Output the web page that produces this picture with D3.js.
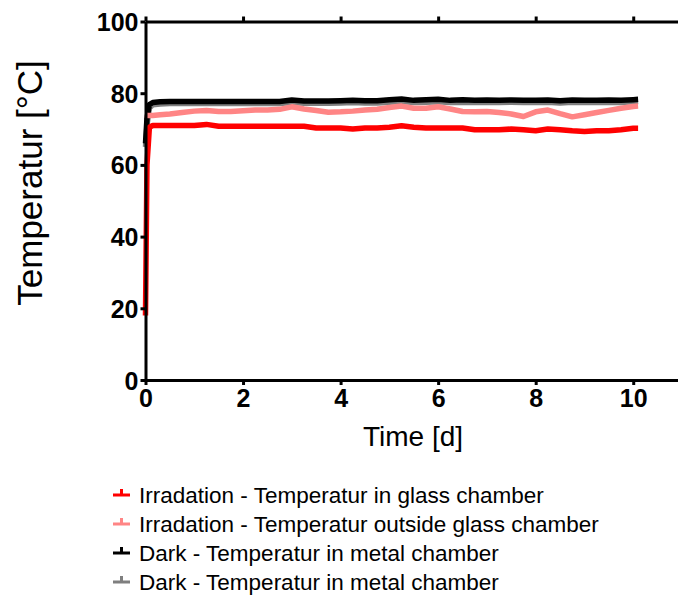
<!DOCTYPE html>
<html>
<head>
<meta charset="utf-8">
<script src="https://cdn.jsdelivr.net/npm/d3@7"></script>
<style>
  html, body { margin: 0; padding: 0; background: #fff; }
  svg { display: block; }
  text { font-family: "Liberation Sans", Arial, sans-serif; }
</style>
</head>
<body>
<svg id="chart" width="678" height="598"></svg>
<script>
// Sampling times in days
const days = [0, 0.03, 0.08, 0.15, 0.3, 0.5, 0.75, 1, 1.25, 1.5, 1.75, 2, 2.25, 2.5, 2.75,
  3, 3.25, 3.5, 3.75, 4, 4.25, 4.5, 4.75, 5, 5.25, 5.5, 5.75, 6, 6.25, 6.5, 6.75,
  7, 7.25, 7.5, 7.75, 8, 8.25, 8.5, 8.75, 9, 9.25, 9.5, 9.75, 10, 10.1];

// Temperatures in °C
const glassIrr = [18, 60, 70.5, 71, 71, 71, 71, 71, 71.3, 70.8, 70.8, 70.8, 70.8, 70.8, 70.8,
  70.8, 70.8, 70.3, 70.3, 70.3, 70.0, 70.3, 70.3, 70.5, 70.9, 70.5, 70.3, 70.3, 70.3, 70.3, 69.8,
  69.8, 69.8, 70.0, 69.8, 69.5, 70.0, 69.8, 69.5, 69.3, 69.5, 69.5, 69.8, 70.2, 70.2];

const outsideIrr = [74, 73.8, 73.8, 73.8, 74, 74.2, 74.6, 75, 75.2, 74.9, 74.9, 75.1, 75.3, 75.3, 75.5,
  76.2, 75.6, 75.2, 74.7, 74.8, 75.0, 75.3, 75.5, 76.0, 76.4, 75.8, 75.8, 76.2, 75.6, 74.9, 74.8,
  74.9, 74.6, 74.2, 73.5, 74.8, 75.3, 74.3, 73.4, 74.0, 74.6, 75.2, 75.8, 76.3, 76.4];

const metalDark = [66, 73, 76.8, 77.4, 77.6, 77.7, 77.7, 77.7, 77.7, 77.7, 77.7, 77.7, 77.7, 77.7, 77.7,
  78.1, 77.8, 77.8, 77.8, 77.9, 78.0, 77.9, 77.9, 78.2, 78.4, 78.0, 78.2, 78.3, 78.0, 78.2, 78.0,
  78.1, 78.0, 78.1, 78.0, 78.0, 78.1, 77.9, 78.1, 78.0, 78.0, 78.1, 78.0, 78.2, 78.3];

const metalDark2 = [65, 71, 75.9, 76.8, 77.0, 77.1, 77.1, 77.1, 77.1, 77.1, 77.1, 77.1, 77.1, 77.1, 77.1,
  77.4, 77.2, 77.2, 77.2, 77.3, 77.4, 77.3, 77.3, 77.5, 77.7, 77.4, 77.5, 77.6, 77.4, 77.5, 77.4,
  77.5, 77.4, 77.5, 77.4, 77.4, 77.5, 77.3, 77.5, 77.4, 77.4, 77.5, 77.4, 77.6, 77.7];

const seriesNames = [
  "Irradation - Temperatur in glass chamber",
  "Irradation - Temperatur outside glass chamber",
  "Dark - Temperatur in metal chamber",
  "Dark - Temperatur in metal chamber"
];
const seriesColors = ["#ff0000", "#ff8585", "#000000", "#7f7f7f"];
const xTicks = [0, 2, 4, 6, 8, 10];
const yTicks = [0, 20, 40, 60, 80, 100];

const svg = d3.select("#chart");

const x = d3.scaleLinear().domain([0, 11]).range([145.5, 682]);
const y = d3.scaleLinear().domain([0, 100]).range([380, 21.5]);

const line = d3.line()
  .x(d => x(d[0]))
  .y(d => y(d[1]));

// Draw order: gray under black, then pink, then red on top
const drawOrder = [
  { vals: metalDark2, color: seriesColors[3] },
  { vals: metalDark, color: seriesColors[2] },
  { vals: outsideIrr, color: seriesColors[1] },
  { vals: glassIrr, color: seriesColors[0] }
];

svg.append("g")
  .selectAll("path")
  .data(drawOrder)
  .join("path")
  .attr("fill", "none")
  .attr("stroke", d => d.color)
  .attr("stroke-width", 5.5)
  .attr("stroke-linejoin", "round")
  .attr("d", d => line(days.map((t, i) => [t, d.vals[i]])));

// Axes
function styleAxis(g) {
  g.select(".domain").attr("stroke", "#000").attr("stroke-width", 3);
  g.selectAll(".tick line").attr("stroke", "#000").attr("stroke-width", 3);
  g.selectAll(".tick text")
    .attr("fill", "#000")
    .style("font-family", '"Liberation Sans", Arial, sans-serif')
    .style("font-weight", "bold")
    .style("font-size", "25px");
}

svg.append("g")
  .attr("transform", `translate(0,${y(0)})`)
  .call(d3.axisBottom(x).tickValues(xTicks).tickSize(5).tickPadding(4).tickSizeOuter(0))
  .call(styleAxis);

svg.append("g")
  .attr("transform", `translate(0,${y(100)})`)
  .call(d3.axisTop(x).tickValues(xTicks).tickSize(5).tickFormat("").tickSizeOuter(0))
  .call(styleAxis);

svg.append("g")
  .attr("transform", `translate(${x(0)},0)`)
  .call(d3.axisLeft(y).tickValues(yTicks).tickSize(5).tickPadding(2).tickSizeOuter(0))
  .call(styleAxis)
  .call(g => g.selectAll(".tick text").attr("dy", "0.36em"));

// Axis titles
svg.append("text")
  .attr("x", 413)
  .attr("y", 446)
  .attr("text-anchor", "middle")
  .style("font-size", "28px")
  .attr("fill", "#000")
  .text("Time [d]");

svg.append("text")
  .attr("transform", "translate(42,183) rotate(-90)")
  .attr("text-anchor", "middle")
  .style("font-size", "35px")
  .attr("fill", "#000")
  .text("Temperatur [°C]");

// Legend
const legend = svg.append("g");
const rowY = [495, 524, 553, 582];
seriesNames.forEach((name, i) => {
  const g = legend.append("g").attr("transform", `translate(0,${rowY[i]})`);
  g.append("line")
    .attr("x1", 113).attr("x2", 130).attr("y1", 0).attr("y2", 0)
    .attr("stroke", seriesColors[i]).attr("stroke-width", 3);
  g.append("line")
    .attr("x1", 121.5).attr("x2", 121.5).attr("y1", 0).attr("y2", -6)
    .attr("stroke", seriesColors[i]).attr("stroke-width", 3);
  g.append("text")
    .attr("x", 139)
    .attr("y", 8)
    .style("font-size", "22.5px")
    .attr("fill", "#000")
    .text(name);
});
</script>
</body>
</html>
